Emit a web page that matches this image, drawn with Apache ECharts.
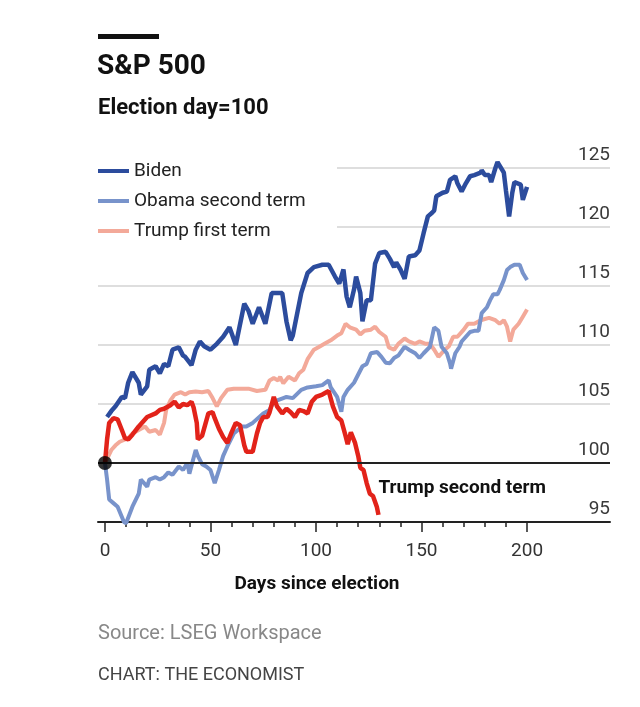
<!DOCTYPE html>
<html>
<head>
<meta charset="utf-8">
<script src="https://cdn.jsdelivr.net/npm/echarts@6/dist/echarts.min.js"></script>
<style>
html,body{margin:0;padding:0;background:#fff;}
#chart{width:640px;height:707px;}
</style>
</head>
<body>
<div id="chart"></div>
<script>
// ---- Data ----
const yTicks = [95, 100, 105, 110, 115, 120, 125];
const xMinorTicks = [0,10,20,30,40,50,60,70,80,90,100,110,120,130,140,150,160,170,180,190,200];
const xMajorTicks = [0, 50, 100, 150, 200];

const bidenDays = [1,3,5,8,9.5,11,13,16,17,20,21,24,26,28,30,32,35,37,38,41,43,45,47,50,53,56,59,62,66,68,70,73,76,79,82,84,86,88,89,93,96,99,103,106,109,111,113,114.5,116,118,119,121,122,124,126,128,130,133,135,137,138,140,142,144,147,149,151,153,155,156,157,160,162,163.5,166,167,169,171,173,175,178,178.5,180,182,183,185,186,189,190,191.5,193,194,197,198,200];
const bidenValues = [103.9,104.4,104.8,105.6,105.5,106.8,107.7,106.8,105.8,106.5,107.9,108.2,107.6,108.4,108.2,109.6,109.8,109.1,109.0,108.3,109.6,110.3,109.9,109.6,110.1,110.7,111.5,110.0,113.5,112.9,111.8,113.2,111.8,114.4,114.4,114.4,112.0,110.4,110.8,114.4,116.1,116.6,116.8,116.8,115.8,115.2,116.4,114.1,113.2,114.7,115.8,114.4,112.0,113.8,113.8,116.9,117.8,117.9,117.3,116.6,117.0,116.4,115.6,117.5,117.6,118.0,119.5,120.9,121.2,121.4,122.6,122.9,123.0,124.0,124.3,123.7,123.0,123.7,124.3,124.4,124.6,124.8,124.4,124.4,123.8,125.0,125.5,124.6,123.1,120.9,122.9,123.8,123.6,122.3,123.4];

const obamaDays = [0,1,2,4,6,9,10,13,16,17,20,21,24,26,28,30,32,35,37,39,40,43,44,46,48,50,52,54,56,58,61,65,67,70,75,78,80,84.5,86,89,93,96,100,103,106,107,110,112,113,115,118,120,122,124,126,129,131,133,135,137,139,142,144,147,149,151,154,156,158,159.5,162,163.5,164,166,168,169,171,173,175,177,178.5,181,182.5,184,186,187,189,190.5,192,194,196.5,198,200];
const obamaValues = [100,98.6,96.9,96.6,96.3,95.0,94.9,96.3,97.4,98.6,98.0,98.6,98.8,98.6,98.8,99.2,99.0,99.7,99.4,100.0,99.1,101.1,100.6,99.9,99.7,99.4,98.3,99.4,100.6,101.4,102.5,103.1,103.1,103.4,104.2,104.5,105.2,105.5,105.6,105.5,106.2,106.4,106.5,106.6,107.0,106.4,105.6,104.35,105.6,106.2,106.8,107.5,108.2,108.4,109.3,109.4,109.0,108.5,108.45,108.9,109.1,109.85,109.6,109.3,108.9,109.3,109.85,111.5,111.2,109.85,109.3,108.45,108.0,109.3,109.85,110.3,110.7,111.1,111.2,111.2,112.7,113.2,113.8,114.3,114.3,114.65,115.5,116.35,116.6,116.8,116.8,116.1,115.5];

const trumpFirstDays = [0,3,5,7,9,11,13,16,19,21,24,26,28,29,31,33,36,38,40,43,46,49,51,53,55,58,61,64,68,72,76,78,80,82,83,84.5,87,90,92,94,96,99,102,104,107,110,112,114,116,119,121,123,126,128,130,133,134.5,137,139,142,144,147,149,152,154,156,158,161,163,165,167,170,172,175,178,180,182,185,187,189,190.5,192,193.5,196,198,200];
const trumpFirstValues = [100,101.1,101.5,101.8,101.95,102.1,102.5,102.8,103.1,102.65,102.8,102.4,103.4,104.5,105.3,105.8,106.0,105.8,106.0,106.05,106.0,106.1,105.5,104.8,105.5,106.2,106.3,106.3,106.3,106.1,106.2,107.0,107.2,107.0,107.3,106.75,107.3,107.0,107.6,107.9,108.8,109.6,109.9,110.1,110.4,110.8,111.0,111.8,111.5,111.3,110.9,111.2,111.3,111.55,111.1,110.7,109.8,109.6,110.1,110.55,110.3,110.1,110.3,110.1,110.1,109.6,109.0,109.6,109.9,110.7,110.7,111.3,111.8,111.8,112.1,112.2,112.3,112.1,111.8,112.1,111.55,110.3,111.3,111.8,112.4,113.0];

const trumpSecondDays = [0,1,2,4,6,8,9.5,11,13,16,18,20,24,26,28,31,33,35,37,39,41,42,43.5,44,46,49,51,52,54,56,58,60,62,64,66,67,70,72,73.5,75,77,78,80,81.5,84,86,88,90,92,94,96,98,100,103,106,108,110,112,114,115,116.5,118.5,120,121,122.5,124,125.5,127,128.8,129.6];
const trumpSecondValues = [100,102.0,103.4,103.8,103.7,102.8,102.1,102.0,102.4,103.1,103.5,103.9,104.2,104.5,104.6,104.9,105.2,104.7,105.0,104.9,105.2,104.7,103.4,102.0,102.3,104.2,104.3,103.8,102.9,102.2,101.7,102.6,103.4,103.2,101.5,100.95,100.95,102.5,103.4,103.9,103.9,104.3,105.6,104.8,104.2,104.6,104.3,103.9,104.5,104.4,104.2,105.2,105.6,105.8,106.1,104.8,103.9,103.6,102.3,101.6,102.6,101.7,100.6,99.6,99.4,98.3,97.4,97.2,96.3,95.6];

const seriesNames = ['Biden', 'Obama second term', 'Trump first term', 'Trump second term'];
const electionDay = [[0, 100]];

function pairs(d, v) { return d.map((x, i) => [x, v[i]]); }

// ---- Styling ----
const FONT = 'Roboto, "Noto Sans", sans-serif';
const C_BIDEN = '#2c4c9d';
const C_OBAMA = '#7893cb';
const C_TF = '#f3a999';
const C_TS = '#e2231a';

const chart = echarts.init(document.getElementById('chart'), null, {renderer: 'canvas'});

const xMin = -3.3, xMax = 239.3;

const option = {
  animation: false,
  backgroundColor: '#fff',
  textStyle: {fontFamily: FONT},
  grid: {left: 98, right: 30, top: 168, bottom: 185, containLabel: false},
  legend: {
    data: seriesNames.slice(0, 3),
    orient: 'vertical',
    left: 98,
    top: 161,
    padding: 0,
    icon: 'rect',
    itemWidth: 31,
    itemHeight: 4,
    itemGap: 10,
    selectedMode: false,
    textStyle: {fontFamily: FONT, fontSize: 19, color: '#222', lineHeight: 20}
  },
  xAxis: [
    {
      type: 'value', min: xMin, max: xMax, position: 'bottom',
      axisLine: {show: true, onZero: false, lineStyle: {color: '#222', width: 2}},
      axisTick: {show: true, customValues: xMinorTicks, length: 5, lineStyle: {color: '#222', width: 1.5}},
      axisLabel: {show: false},
      splitLine: {show: false}
    },
    {
      type: 'value', min: xMin, max: xMax, position: 'bottom',
      axisLine: {show: false},
      axisTick: {show: true, customValues: xMajorTicks, length: 10, lineStyle: {color: '#222', width: 1.5}},
      axisLabel: {show: true, customValues: xMajorTicks, margin: 20, fontSize: 19, color: '#333', fontFamily: FONT},
      splitLine: {show: false}
    }
  ],
  yAxis: {
    type: 'value', min: 95, max: 125, interval: 5, position: 'right',
    axisLine: {show: false},
    axisTick: {show: false},
    axisLabel: {
      inside: true, margin: 0, fontSize: 19, color: '#3a3a3a', fontFamily: FONT,
      verticalAlign: 'bottom', padding: [0, 0, 3, 0],
      customValues: yTicks
    },
    splitLine: {show: true, lineStyle: {color: '#d3d3d3', width: 1.5}}
  },
  graphic: [
    {type: 'rect', left: 98, top: 34, shape: {width: 61, height: 5}, style: {fill: '#111'}},
    {type: 'text', left: 97, top: 53, style: {text: 'S&P 500', font: 'bold 28px ' + FONT, fill: '#111'}},
    {type: 'text', left: 98, top: 97, style: {text: 'Election day=100', font: 'bold 22px ' + FONT, fill: '#111'}},
    {type: 'rect', left: 95, top: 150, z: 1, shape: {width: 242, height: 88}, style: {fill: '#fff'}},
    {type: 'text', x: 317, y: 575, style: {text: 'Days since election', font: 'bold 19px ' + FONT, fill: '#111', align: 'center'}},
    {type: 'text', left: 98, top: 624, style: {text: 'Source: LSEG Workspace', font: '20px ' + FONT, fill: '#888'}},
    {type: 'text', left: 98, top: 666, style: {text: 'CHART: THE ECONOMIST', font: '18px ' + FONT, fill: '#444'}}
  ],
  series: [
    {
      name: seriesNames[2], type: 'line', data: pairs(trumpFirstDays, trumpFirstValues),
      showSymbol: false, symbol: 'none', color: C_TF, clip: false, z: 2,
      lineStyle: {color: C_TF, width: 4}
    },
    {
      name: seriesNames[1], type: 'line', data: pairs(obamaDays, obamaValues),
      showSymbol: false, symbol: 'none', color: C_OBAMA, clip: false, z: 3,
      lineStyle: {color: C_OBAMA, width: 4}
    },
    {
      name: seriesNames[3], type: 'line', data: pairs(trumpSecondDays, trumpSecondValues),
      showSymbol: false, symbol: 'none', color: C_TS, clip: false, z: 4,
      lineStyle: {color: C_TS, width: 4.5},
      endLabel: {show: true, formatter: '{a}', fontFamily: FONT, fontSize: 19, fontWeight: 'bold', color: '#111', distance: 0, offset: [0, -27]},
      markLine: {
        silent: true, symbol: 'none', label: {show: false},
        lineStyle: {color: '#222', width: 2, type: 'solid'},
        data: [{yAxis: 100}]
      }
    },
    {
      name: seriesNames[0], type: 'line', data: pairs(bidenDays, bidenValues),
      showSymbol: false, symbol: 'none', color: C_BIDEN, clip: false, z: 5,
      lineStyle: {color: C_BIDEN, width: 4.5}
    },
    {
      name: 'Election day', type: 'scatter', data: electionDay,
      symbol: 'circle', symbolSize: 14, itemStyle: {color: '#000'}, z: 10, clip: false
    }
  ]
};
chart.setOption(option);
</script>
</body>
</html>
